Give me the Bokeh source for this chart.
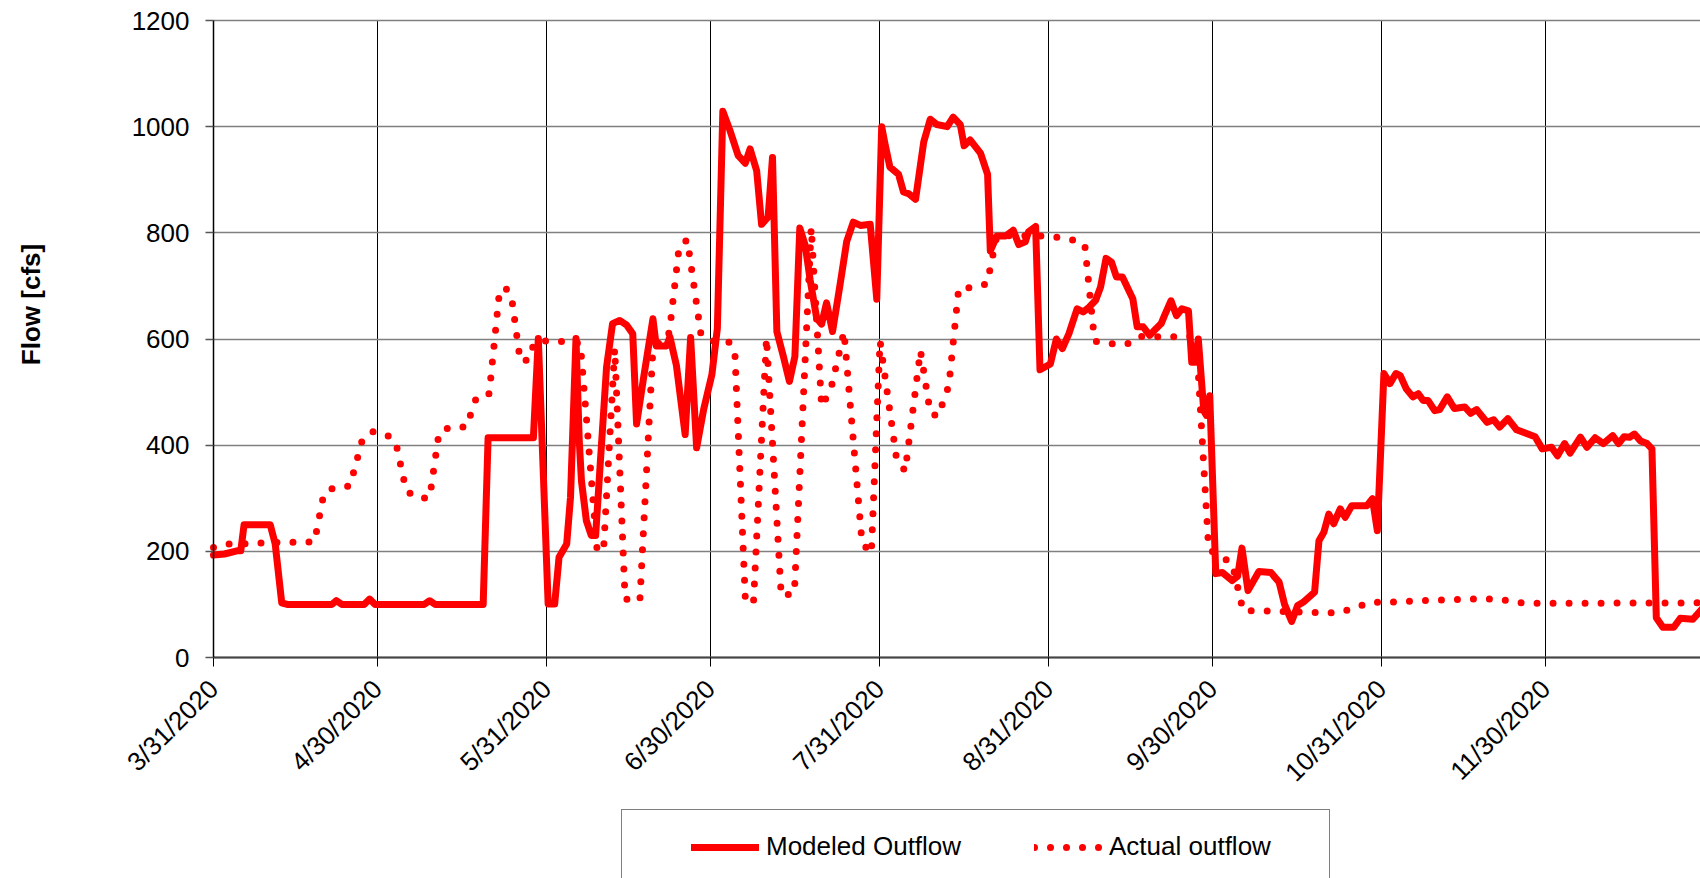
import math
import numpy as np
import pandas as pd
from bokeh.plotting import figure
from bokeh.models import (Range1d, FixedTicker, Legend, LegendItem, Label,
                          ColumnDataSource)
from bokeh.embed import file_html
from bokeh.resources import INLINE

# ---------------- data ----------------
start_date = "2020-03-31"

modeled_day = [0, 2, 4.3, 5, 5.6, 10.4, 11.3, 12.5, 13.5, 21.7, 22.5, 23.5, 27.6, 28.6, 29.6,
               38.6, 39.6, 40.6, 49.4, 50.3, 58.6, 59.5, 61.3, 62.5, 63.3, 64.7, 65.4, 66.4,
               67.0, 67.4, 68.3, 69.2, 70.0, 70.8, 72.0, 73.1, 74.4, 75.7, 76.8, 77.5, 78.8,
               80.5, 81.1, 83.0, 83.6, 84.8, 86.4, 87.4, 88.5, 89.8, 91.3, 92.3, 93.3, 94.6,
               96.1, 97.4, 98.3, 99.5, 100.4, 101.6, 102.4, 103.2, 104.4, 105.5, 106.5, 107.4,
               108.4, 109.3, 110.5, 111.4, 112.3, 113.4, 114.8, 116.0, 117.2, 118.5, 120.3,
               121.5, 122.4, 123.0, 123.9, 125.5, 126.4, 127.3, 128.6, 130.1, 131.3, 132.5,
               134.4, 135.5, 136.8, 137.5, 138.6, 140.5, 141.8, 142.3, 143.5, 145.1, 146.5,
               147.5, 148.7, 149.3, 150.6, 151.4, 153.3, 154.4, 155.5, 156.7, 158.2, 159.3,
               160.4, 161.6, 162.5, 163.5, 164.5, 165.4, 166.5, 168.4, 169.2, 170.3, 171.5,
               172.6, 173.6, 174.2, 175.4, 176.4, 177.4, 178.6, 179.2, 179.8, 180.4, 181.4,
               181.9, 182.5, 183.6, 184.8, 186.6, 187.6, 188.4, 189.5, 191.5, 193.7, 195.2,
               196.2, 197.5, 198.6, 199.6, 201.7, 202.5, 203.4, 204.3, 205.2, 206.4, 207.3,
               208.5, 211.3, 212.3, 213.2, 214.4, 215.5, 216.6, 217.4, 218.5, 219.7, 220.7,
               221.6, 222.5, 223.7, 224.6, 226.0, 227.3, 229.2, 230.3, 231.4, 233.3, 234.5,
               235.6, 237.1, 238.7, 242.1, 243.4, 245.1, 246.2, 247.5, 248.5, 250.4, 251.6,
               253.1, 254.6, 256.3, 257.4, 258.4, 259.4, 260.3, 261.4, 262.6, 263.5, 264.3,
               265.5, 267.5, 268.7, 271.0, 273.0]
modeled_cfs = [193, 195, 201, 201, 250, 250, 214, 103, 100, 100, 107, 100, 100, 110, 100,
               100, 107, 100, 100, 414, 414, 601, 101, 101, 189, 214, 302, 601,
               409, 333, 258, 230, 230, 358, 547, 629, 635, 626, 610, 440, 528,
               638, 587, 587, 604, 550, 420, 603, 395, 468, 533, 620, 1029, 993,
               946, 931, 958, 917, 816, 830, 942, 614, 567, 520, 567, 809,
               776, 711, 639, 628, 668, 614, 704, 784, 820, 814, 816,
               675, 1000, 968, 924, 910, 877, 874, 863, 971, 1014, 1004,
               1000, 1018, 1004, 964, 975, 950, 910, 766, 794, 794, 805,
               778, 783, 802, 812, 542, 553, 600, 582, 610, 657, 651,
               660, 673, 698, 752, 745, 717, 717, 676, 623, 623, 607,
               619, 629, 644, 672, 644, 657, 653, 556, 556, 600, 465,
               456, 493, 158, 160, 145, 153, 206, 126, 162, 160, 142,
               100, 68, 98, 104, 123, 220, 236, 270, 252, 280, 264,
               286, 286, 299, 239, 535, 516, 535, 531, 506, 491, 497,
               484, 484, 465, 467, 491, 469, 472, 460, 467, 443, 448,
               434, 450, 429, 416, 393, 396, 380, 403, 385, 415, 396,
               414, 403, 418, 403, 416, 415, 421, 408, 403, 393, 75,
               57, 57, 74, 72, 95]

actual_day = [0, 3.4, 6.4, 9.3, 12.3, 15.3, 18.5, 20.2, 22, 25, 27.2, 29, 31.7, 33.4, 35.3,
              37.4, 39.6, 41.3, 43.3, 46.3, 48.2, 50.5, 52.3, 53.4, 54.6, 56.2, 57.8, 58.7,
              61.2, 64.1, 67.2, 70.3, 71.5, 73.5, 75.4, 78.1, 80.4, 81.5, 83.2, 83.6, 85.3,
              86.8, 89.3, 91.6, 94.3, 95.5, 97.4, 98.9, 101.3, 104, 106.4, 109.5, 111.4,
              113.1, 115.5, 118.8, 120.5, 122.1, 125.1, 126.7, 129.5, 131.3, 132.7, 134.7,
              136.5, 139.3, 141.7, 143.5, 151.5, 154.4, 157.3, 159.6, 161.4, 164.2, 167.3,
              169.4, 174.9, 180, 182.3, 184.5, 186.6, 188.6, 191.6, 194.6, 200.5, 203.5,
              206.4, 209.2, 211.9, 214.7, 217.8, 220.7, 223.7, 226.7, 229.7, 232.7, 235.6,
              238.5, 241.5, 244.4, 273]
actual_cfs = [207, 215, 214, 216, 217, 217, 218, 308, 320, 323, 408, 426, 420, 405, 314,
              300, 301, 423, 434, 434, 491, 497, 681, 698, 679, 558, 561, 592,
              597, 595, 592, 198, 212, 582, 110, 107, 564, 592, 600, 621, 774,
              787, 608, 596, 596, 576, 115, 100, 602, 116, 121, 810, 473,
              506, 614, 216, 196, 596, 376, 351, 578, 461, 454, 512,
              695, 697, 704, 795, 794, 792, 787, 778, 596, 591, 590,
              605, 604, 605, 204, 190, 178, 88, 88, 87, 85, 84,
              85, 94, 104, 104, 105, 107, 108, 109, 110, 110, 110,
              104, 102, 102, 103]

tick_dates = ["2020-03-31", "2020-04-30", "2020-05-31", "2020-06-30", "2020-07-31",
              "2020-08-31", "2020-09-30", "2020-10-31", "2020-11-30"]
tick_labels = ["3/31/2020", "4/30/2020", "5/31/2020", "6/30/2020", "7/31/2020",
               "8/31/2020", "9/30/2020", "10/31/2020", "11/30/2020"]
y_ticks = [0, 200, 400, 600, 800, 1000, 1200]
series_names = ["Modeled Outflow", "Actual outflow"]
y_title = "Flow [cfs]"

# ---------------- layout constants (pixels) ----------------
W, H = 1700, 878
AX_LEFT, AX_TOP, AX_BOTTOM = 213, 20, 657      # plot area edges on the page
PX_PER_DAY = 5.459
y_lo, y_hi = y_ticks[0], y_ticks[-1]
PX_PER_CFS = (AX_BOTTOM - AX_TOP) / (y_hi - y_lo)

t0 = pd.Timestamp(start_date)
DAY_MS = 86400000.0
t0_ms = float(t0.value // 10**6)


def px_to_x(px):
    return t0_ms + (px - AX_LEFT) / PX_PER_DAY * DAY_MS


def px_to_y(py):
    return y_lo + (AX_BOTTOM - py) / PX_PER_CFS


# the frame covers the whole canvas so that the legend and title stay visible
x_range = Range1d(px_to_x(0), px_to_x(W))
y_range = Range1d(px_to_y(H), px_to_y(0))
x_end_ms = px_to_x(W)

mod_src = ColumnDataSource(dict(
    x=(t0 + pd.to_timedelta(np.array(modeled_day), unit="D")).to_numpy(),
    y=modeled_cfs))
act_src = ColumnDataSource(dict(
    x=(t0 + pd.to_timedelta(np.array(actual_day), unit="D")).to_numpy(),
    y=actual_cfs))

p = figure(x_axis_type="datetime", frame_width=W, frame_height=H,
           min_border=0, min_border_left=0, min_border_right=0,
           min_border_top=0, min_border_bottom=0,
           x_range=x_range, y_range=y_range,
           output_backend="svg", toolbar_location=None)
p.outline_line_color = None
p.background_fill_color = "white"
p.border_fill_color = "white"

tick_ms = [float(pd.Timestamp(d).value // 10**6) for d in tick_dates]
FONT = "Liberation Sans"

xax = p.xaxis[0]
yax = p.yaxis[0]
xax.fixed_location = y_lo
xax.bounds = (t0_ms, x_end_ms)
yax.fixed_location = t0_ms
yax.bounds = (y_lo, y_hi)

xax.ticker = FixedTicker(ticks=tick_ms)
xax.major_label_overrides = {ms: lab for ms, lab in zip(tick_ms, tick_labels)}
yax.ticker = FixedTicker(ticks=y_ticks)

for ax in (xax, yax):
    ax.major_label_text_font = FONT
    ax.major_label_text_font_size = "26px"
    ax.major_label_text_color = "black"
    ax.minor_tick_line_color = None
    ax.major_tick_in = 0

yax.axis_line_color = "black"
yax.axis_line_width = 1.5
yax.major_tick_line_color = "#555555"
yax.major_tick_line_width = 1.5
yax.major_tick_out = 8
yax.major_label_standoff = 16

xax.axis_line_color = "#444444"
xax.axis_line_width = 2
xax.major_tick_line_color = "black"
xax.major_tick_line_width = 1
xax.major_tick_out = 9
xax.major_label_orientation = math.pi / 4
xax.major_label_standoff = 18

# grid lines limited to the plot area
grid_ok = True
try:
    p.xgrid.cross_bounds = (y_lo, y_hi)
    p.ygrid.cross_bounds = (t0_ms, x_end_ms)
except AttributeError:
    grid_ok = False

if grid_ok:
    p.xgrid.grid_line_color = "black"
    p.xgrid.grid_line_width = 1
    p.ygrid.grid_line_color = "#808080"
    p.ygrid.grid_line_width = 1.5
else:
    p.xgrid.grid_line_color = None
    p.ygrid.grid_line_color = None
    p.segment(x0=tick_ms, y0=[y_lo] * len(tick_ms), x1=tick_ms, y1=[y_hi] * len(tick_ms),
              line_color="black", line_width=1)
    p.segment(x0=[t0_ms] * len(y_ticks), y0=y_ticks, x1=[x_end_ms] * len(y_ticks),
              y1=y_ticks, line_color="#808080", line_width=1.5)

r_mod = p.line("x", "y", source=mod_src, line_color="#FF0000", line_width=7,
               line_cap="round", line_join="round")
r_act = p.line("x", "y", source=act_src, line_color="#FF0000", line_width=7,
               line_dash="0 16", line_cap="round", line_join="round")

# y-axis title
p.add_layout(Label(x=px_to_x(30), y=px_to_y(304), text=y_title,
                   angle=math.pi / 2, text_align="center", text_baseline="middle",
                   text_font=FONT, text_font_size="26px", text_font_style="bold",
                   text_color="black"))

# legend (box top at y=809 px, text centred at y=845 px)
PAD = 21
legend = Legend(items=[LegendItem(label=series_names[0], renderers=[r_mod]),
                       LegendItem(label=series_names[1], renderers=[r_act])],
                orientation="horizontal",
                glyph_width=68, glyph_height=30, label_standoff=7, spacing=69,
                padding=PAD, margin=0, label_width=199,
                border_line_color="black", border_line_width=1,
                background_fill_color="white", background_fill_alpha=1,
                label_text_font=FONT, label_text_font_size="26px",
                label_text_color="black")
has_left_title = True
try:
    legend.title_location = "left"
except AttributeError:
    has_left_title = False
if has_left_title:
    legend.title = " "
    legend.title_text_font_size = "1px"
    legend.title_standoff = 47
leg_h = 2 * PAD + 33
legend.location = (621 if has_left_title else 668, H - 809 - leg_h)
p.add_layout(legend)

open("out.html", "w").write(file_html(p, INLINE))
